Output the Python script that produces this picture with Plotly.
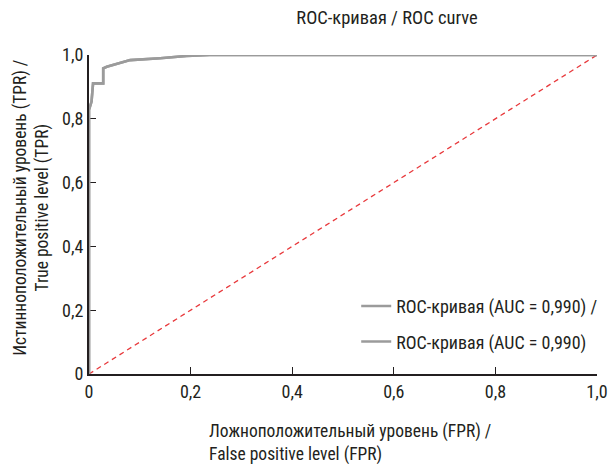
import plotly.graph_objects as go

# ROC curve points
fpr = [0.0, 0.0, 0.005, 0.008, 0.028, 0.028, 0.035, 0.061, 0.081, 0.140, 0.192, 0.238, 1.0]
tpr = [0.0, 0.828, 0.854, 0.911, 0.911, 0.958, 0.963, 0.974, 0.984, 0.990, 0.997, 1.0, 1.0]
diag_x = [0.0, 1.0]
diag_y = [0.0, 1.0]

legend_names = ["ROC-кривая (AUC = 0,990) /", "ROC-кривая (AUC = 0,990)"]
tick_vals = [0, 0.2, 0.4, 0.6, 0.8, 1.0]
tick_text = ["0", "0,2", "0,4", "0,6", "0,8", "1,0"]

title_text = "ROC-кривая / ROC curve"
x_title = "Ложноположительный уровень (FPR) /<br>False positive level (FPR)"
y_title = "Истинноположительный уровень (TPR) /<br>True positive level (TPR)"

FONT = "Liberation Sans Narrow, Roboto Condensed, Arial Narrow, Liberation Sans, sans-serif"
GRAY = "#9b9b9b"
INK = "#231f20"

fig = go.Figure()
fig.add_trace(go.Scatter(x=diag_x, y=diag_y, mode="lines",
                         line=dict(color="#e8393c", width=1.3, dash="5px,4px"),
                         showlegend=False, hoverinfo="skip"))
for i, name in enumerate(legend_names):
    fig.add_trace(go.Scatter(x=fpr, y=tpr, mode="lines", name=name,
                             legendgroup=f"g{i}",
                             line=dict(color=GRAY, width=2.6, shape="linear")))

axis_common = dict(
    range=[0, 1], tickvals=tick_vals, ticktext=tick_text,
    showgrid=False, zeroline=False, showline=True, linecolor=INK, linewidth=2,
    ticks="inside", ticklen=7, tickwidth=1.2, tickcolor=INK,
    tickfont=dict(family=FONT, size=18, color=INK), layer="below traces",
)
fig.update_xaxes(**axis_common)
fig.update_yaxes(**axis_common)

fig.update_layout(
    width=612, height=464,
    margin=dict(l=89, r=15, t=55, b=90, autoexpand=False),
    paper_bgcolor="white", plot_bgcolor="white",
    font=dict(family=FONT, color=INK),
    title=dict(text=title_text, x=(387 / 612), xanchor="center", y=1 - 18 / 464, yanchor="middle",
               font=dict(family=FONT, size=18.5, color=INK)),
    legend=dict(x=0.526, xanchor="left", y=0.27, yanchor="top",
                font=dict(family=FONT, size=18, color=INK),
                bgcolor="rgba(0,0,0,0)", tracegroupgap=9),
    showlegend=True,
    annotations=[
        dict(text=x_title, xref="paper", yref="paper", x=0.514, y=-0.14,
             xanchor="center", yanchor="top", align="left", showarrow=False,
             font=dict(family=FONT, size=17.5, color=INK)),
        dict(text=y_title, xref="paper", yref="paper", x=-0.16, y=0.52,
             xanchor="left", yanchor="middle", textangle=-90, align="center", showarrow=False,
             font=dict(family=FONT, size=17.5, color=INK)),
    ],
)

fig.write_html("out.html", post_script="document.body.style.margin='0';",
               config={"displayModeBar": False})
